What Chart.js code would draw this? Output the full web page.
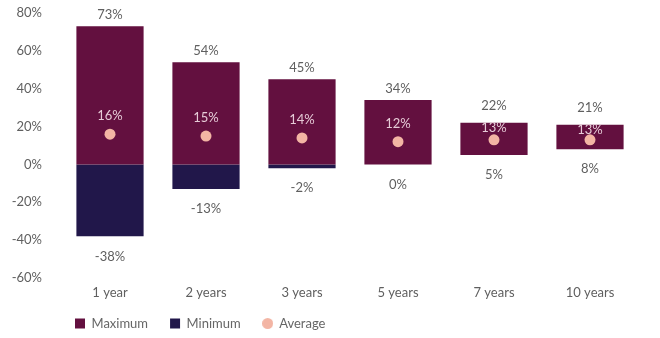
<!DOCTYPE html>
<html>
<head>
<meta charset="utf-8">
<title>Return ranges by holding period</title>
<script src="https://cdn.jsdelivr.net/npm/chart.js@4"></script>
<style>
  html, body { margin: 0; padding: 0; background: #fff; }
</style>
</head>
<body>
<canvas id="rangeChart" width="660" height="338"></canvas>
<script>
// Holding periods and their best / worst / average annualised returns (%)
const periods = ['1 year', '2 years', '3 years', '5 years', '7 years', '10 years'];
const maxReturns = [73, 54, 45, 34, 22, 21];
const minReturns = [-38, -13, -2, 0, 5, 8];
const avgReturns = [16, 15, 14, 12, 13, 13];
const yTicks = [-60, -40, -20, 0, 20, 40, 60, 80];

const MAROON = '#63103f';
const NAVY = '#21174a';
const PEACH = '#f3b5a4';
const GREY = '#5f5f5f';
const FONT = 'Lato, "Liberation Sans", sans-serif';

// maroon bar spans from the worst return (or zero) up to the best
const maxBars = maxReturns.map((v, i) => [Math.max(minReturns[i], 0), v]);
// navy bar only where the worst return is negative
const minBars = minReturns.map(v => (v < 0 ? [v, 0] : null));

// small round icon for the "Average" legend entry
const dotIcon = document.createElement('canvas');
dotIcon.width = 11;
dotIcon.height = 11;
(function () {
    const c = dotIcon.getContext('2d');
    c.fillStyle = PEACH;
    c.beginPath();
    c.arc(5.5, 5.5, 5.5, 0, Math.PI * 2);
    c.fill();
})();

// percentage labels above / below the bars and above the average dots
const valueLabels = {
    id: 'valueLabels',
    afterDatasetsDraw(chart) {
        const { ctx, scales: { x, y } } = chart;
        ctx.save();
        ctx.font = '13px ' + FONT;
        ctx.textAlign = 'center';
        ctx.textBaseline = 'middle';
        periods.forEach((p, i) => {
            const cx = x.getPixelForValue(i);
            const topY = y.getPixelForValue(maxReturns[i]);
            const dotY = y.getPixelForValue(avgReturns[i]);
            // keep the average label inside the bar on the short bars,
            // and push the max label clear of it
            const avgY = Math.max(dotY - 18, topY + 5);
            const maxY = Math.min(topY - 11, avgY - 22);
            ctx.fillStyle = GREY;
            ctx.fillText(maxReturns[i] + '%', cx, maxY);
            ctx.fillText(minReturns[i] + '%', cx, y.getPixelForValue(minReturns[i]) + 20);
            ctx.fillStyle = '#e6cbd7';
            ctx.fillText(avgReturns[i] + '%', cx, avgY);
        });
        ctx.restore();
    }
};

// the axes are packed tightly, so let their tick labels spill past the axis boxes
const looseTickLabels = {
    id: 'looseTickLabels',
    afterLayout(chart) {
        chart.scales.x.bottom = chart.height;
        chart.scales.y.left = 0;
    }
};

const ctx = document.getElementById('rangeChart').getContext('2d');
const rangeChart = new Chart(ctx, {
    type: 'bar',
    data: {
        labels: periods,
        datasets: [
            {
                label: 'Maximum',
                data: maxBars,
                backgroundColor: MAROON,
                grouped: false,
                barPercentage: 0.7,
                categoryPercentage: 1,
                pointStyle: 'rect',
                order: 1
            },
            {
                label: 'Minimum',
                data: minBars,
                backgroundColor: NAVY,
                grouped: false,
                barPercentage: 0.7,
                categoryPercentage: 1,
                pointStyle: 'rect',
                order: 1
            },
            {
                type: 'line',
                label: 'Average',
                data: avgReturns,
                showLine: false,
                pointRadius: 5.5,
                pointBorderWidth: 0,
                pointBackgroundColor: PEACH,
                backgroundColor: PEACH,
                borderColor: PEACH,
                pointStyle: 'circle',
                order: 0
            }
        ]
    },
    options: {
        responsive: false,
        animation: false,
        layout: { padding: { top: 13, right: 22, bottom: -2, left: 53 } },
        plugins: {
            tooltip: { enabled: false },
            legend: {
                position: 'bottom',
                align: 'start',
                labels: {
                    usePointStyle: true,
                    boxWidth: 10,
                    boxHeight: 10,
                    padding: 22,
                    color: '#666',
                    font: { family: FONT, size: 13 },
                    sort: (a, b) => a.datasetIndex - b.datasetIndex,
                    generateLabels(chart) {
                        const items = Chart.defaults.plugins.legend.labels.generateLabels(chart);
                        items.forEach(item => {
                            if (item.datasetIndex === 2) item.pointStyle = dotIcon;
                        });
                        return items;
                    }
                }
            }
        },
        scales: {
            x: {
                grid: { display: false, drawTicks: false },
                border: { display: false },
                ticks: { color: GREY, padding: 7, font: { family: FONT, size: 13 } },
                afterFit(scale) { scale.height = 17; }
            },
            y: {
                min: -60,
                max: 80,
                grid: { display: false, drawTicks: false },
                border: { display: false },
                afterBuildTicks(axis) { axis.ticks = yTicks.map(v => ({ value: v })); },
                ticks: {
                    color: GREY,
                    padding: 20,
                    font: { family: FONT, size: 13 },
                    callback: v => v + '%'
                },
                afterFit(scale) {
                    scale.width = 9;
                    scale.paddingTop = 8;
                    scale.paddingBottom = 8;
                }
            }
        }
    },
    plugins: [valueLabels, looseTickLabels]
});
</script>
</body>
</html>
